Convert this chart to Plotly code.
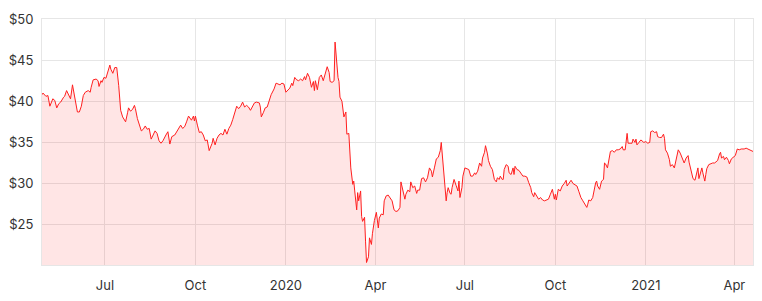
import plotly.graph_objects as go

dates = [
    "2019-04-28","2019-04-29","2019-05-02","2019-05-04","2019-05-06","2019-05-09","2019-05-11","2019-05-13","2019-05-15","2019-05-17",
    "2019-05-20","2019-05-21","2019-05-23","2019-05-25","2019-05-27","2019-05-29","2019-05-31",
    "2019-06-01","2019-06-03","2019-06-05","2019-06-07","2019-06-09","2019-06-11","2019-06-14","2019-06-16","2019-06-17","2019-06-19",
    "2019-06-22","2019-06-24","2019-06-25","2019-06-27","2019-06-28","2019-06-30",
    "2019-07-02","2019-07-04","2019-07-06","2019-07-07","2019-07-09","2019-07-11","2019-07-13","2019-07-15","2019-07-17","2019-07-19",
    "2019-07-21","2019-07-22","2019-07-24","2019-07-25","2019-07-27","2019-07-29","2019-07-31",
    "2019-08-01","2019-08-03","2019-08-05","2019-08-07","2019-08-09","2019-08-11","2019-08-13","2019-08-15","2019-08-17","2019-08-19",
    "2019-08-21","2019-08-23","2019-08-25","2019-08-27","2019-08-29",
    "2019-09-01","2019-09-03","2019-09-05","2019-09-07","2019-09-10","2019-09-12","2019-09-14","2019-09-16","2019-09-18","2019-09-20",
    "2019-09-22","2019-09-24","2019-09-27","2019-09-29","2019-09-30",
    "2019-10-01","2019-10-03","2019-10-05","2019-10-07","2019-10-09","2019-10-11","2019-10-13","2019-10-15","2019-10-18","2019-10-19",
    "2019-10-21","2019-10-23","2019-10-25","2019-10-27","2019-10-29","2019-10-31",
    "2019-11-02","2019-11-04","2019-11-06","2019-11-08","2019-11-10","2019-11-12","2019-11-14","2019-11-16","2019-11-18","2019-11-20",
    "2019-11-22","2019-11-24","2019-11-26","2019-11-28","2019-11-30",
    "2019-12-02","2019-12-05","2019-12-06","2019-12-07","2019-12-09","2019-12-11","2019-12-13","2019-12-15","2019-12-17","2019-12-20",
    "2019-12-22","2019-12-24","2019-12-26","2019-12-28","2019-12-30",
    "2020-01-01","2020-01-03","2020-01-05","2020-01-07","2020-01-08","2020-01-10","2020-01-12","2020-01-14","2020-01-16","2020-01-18",
    "2020-01-20","2020-01-21","2020-01-23","2020-01-25","2020-01-27","2020-01-29","2020-01-30","2020-01-31",
    "2020-02-02","2020-02-04","2020-02-06","2020-02-08","2020-02-10","2020-02-12","2020-02-14","2020-02-15","2020-02-17","2020-02-19",
    "2020-02-20","2020-02-21","2020-02-23","2020-02-24","2020-02-25","2020-02-27","2020-02-28","2020-02-29",
    "2020-03-02","2020-03-03","2020-03-05","2020-03-06","2020-03-07","2020-03-09","2020-03-10","2020-03-11","2020-03-13","2020-03-14",
    "2020-03-15","2020-03-17","2020-03-18","2020-03-19","2020-03-21","2020-03-22","2020-03-23","2020-03-25","2020-03-26","2020-03-28",
    "2020-03-29","2020-03-31",
    "2020-04-02","2020-04-04","2020-04-05","2020-04-07","2020-04-09","2020-04-10","2020-04-12","2020-04-14","2020-04-16","2020-04-18",
    "2020-04-20","2020-04-22","2020-04-24","2020-04-26","2020-04-27","2020-04-29",
    "2020-05-01","2020-05-02","2020-05-04","2020-05-06","2020-05-07","2020-05-09","2020-05-11","2020-05-13","2020-05-14","2020-05-16",
    "2020-05-18","2020-05-20","2020-05-22","2020-05-24","2020-05-26","2020-05-28","2020-05-29","2020-05-31",
    "2020-06-02","2020-06-04","2020-06-06","2020-06-07","2020-06-08","2020-06-10","2020-06-12","2020-06-13","2020-06-14","2020-06-16",
    "2020-06-17","2020-06-18","2020-06-20","2020-06-22","2020-06-24","2020-06-25","2020-06-26","2020-06-28","2020-06-29",
    "2020-07-01","2020-07-03","2020-07-05","2020-07-07","2020-07-09","2020-07-11","2020-07-12","2020-07-14","2020-07-16","2020-07-18",
    "2020-07-19","2020-07-21","2020-07-22","2020-07-24","2020-07-25","2020-07-27","2020-07-29","2020-07-31",
    "2020-08-02","2020-08-03","2020-08-05","2020-08-06","2020-08-08","2020-08-09","2020-08-10","2020-08-12","2020-08-14","2020-08-15",
    "2020-08-17","2020-08-19","2020-08-20","2020-08-21","2020-08-23","2020-08-25","2020-08-27","2020-08-29","2020-08-31",
    "2020-09-02","2020-09-04","2020-09-06","2020-09-07","2020-09-09","2020-09-10","2020-09-12","2020-09-14","2020-09-16","2020-09-18",
    "2020-09-20","2020-09-22","2020-09-24","2020-09-26","2020-09-28","2020-09-30",
    "2020-10-01","2020-10-02","2020-10-04","2020-10-06","2020-10-08","2020-10-10","2020-10-12","2020-10-13","2020-10-15","2020-10-17",
    "2020-10-19","2020-10-21","2020-10-23","2020-10-25","2020-10-27","2020-10-29","2020-10-31",
    "2020-11-02","2020-11-03","2020-11-04","2020-11-06","2020-11-08","2020-11-11","2020-11-12","2020-11-13","2020-11-15","2020-11-17",
    "2020-11-19","2020-11-20","2020-11-21","2020-11-23","2020-11-24","2020-11-26","2020-11-28","2020-11-30",
    "2020-12-02","2020-12-04","2020-12-06","2020-12-08","2020-12-09","2020-12-11","2020-12-13","2020-12-14","2020-12-16","2020-12-18",
    "2020-12-19","2020-12-21","2020-12-22","2020-12-23","2020-12-25","2020-12-27","2020-12-30",
    "2021-01-01","2021-01-03","2021-01-05","2021-01-06","2021-01-08","2021-01-10","2021-01-12","2021-01-13","2021-01-15","2021-01-17",
    "2021-01-19","2021-01-20","2021-01-21","2021-01-23","2021-01-25","2021-01-26","2021-01-28","2021-01-30",
    "2021-02-01","2021-02-03","2021-02-05","2021-02-07","2021-02-09","2021-02-11","2021-02-13","2021-02-14","2021-02-16","2021-02-18",
    "2021-02-20","2021-02-22","2021-02-23","2021-02-24","2021-02-26","2021-02-27","2021-02-28",
    "2021-03-02","2021-03-03","2021-03-04","2021-03-06","2021-03-08","2021-03-10","2021-03-12","2021-03-15","2021-03-17","2021-03-18",
    "2021-03-19","2021-03-21","2021-03-22","2021-03-24","2021-03-26","2021-03-27","2021-03-29","2021-03-31",
    "2021-04-02","2021-04-04","2021-04-06","2021-04-08","2021-04-11","2021-04-13","2021-04-15","2021-04-18","2021-04-20",
]

prices = [
    40.8,41.0,40.6,40.7,39.4,40.3,40.1,39.2,39.7,39.9,
    40.5,40.6,41.3,40.7,40.3,42.0,40.5,
    40.1,38.7,38.7,39.4,40.7,41.1,41.3,41.1,41.7,42.6,
    42.7,42.5,41.8,42.5,42.3,42.9,
    42.8,43.7,44.4,43.9,43.4,44.1,44.1,41.9,38.9,38.1,
    37.7,37.5,38.6,39.2,38.8,39.0,39.5,
    39.1,37.9,37.1,36.4,36.6,37.0,36.6,36.7,35.4,35.9,
    36.4,36.1,35.2,34.9,35.2,
    35.9,36.3,34.8,35.7,35.9,36.3,36.7,37.1,36.7,36.9,
    37.5,38.2,37.7,38.2,37.6,
    38.2,37.1,36.2,36.3,35.9,35.2,35.3,34.0,34.9,35.5,
    34.7,35.5,35.9,36.1,35.9,36.6,
    36.0,36.7,37.1,37.8,38.5,39.4,39.1,39.4,39.9,39.3,
    39.5,39.3,38.9,39.4,39.8,
    39.9,39.8,39.3,38.1,38.6,39.2,39.3,40.0,40.8,41.5,
    42.2,42.1,42.0,42.2,42.1,
    41.1,41.3,41.6,42.2,41.9,42.9,42.6,42.5,42.7,42.5,
    43.0,42.6,43.4,42.9,41.7,42.4,41.3,42.5,
    41.4,42.9,43.2,42.5,43.3,44.2,43.5,42.4,42.3,42.5,
    47.2,45.3,42.9,42.4,40.5,40.0,38.5,38.1,
    38.7,36.0,36.1,33.9,31.9,29.9,30.3,29.1,26.8,28.9,
    27.9,29.1,26.0,25.4,25.9,23.0,20.4,21.1,23.4,22.6,
    23.9,25.5,
    26.5,24.6,25.8,26.3,26.2,27.9,28.5,28.6,28.3,27.9,
    26.8,26.6,26.7,27.1,30.2,28.9,
    28.1,28.7,29.2,29.0,30.2,29.5,29.7,28.8,29.2,29.2,
    30.6,30.7,30.2,30.7,31.9,31.5,30.8,31.9,
    33.0,33.2,34.0,35.0,33.7,31.3,27.9,28.9,29.5,28.8,
    28.7,29.5,30.5,29.8,29.1,30.3,28.3,29.5,30.9,
    31.9,31.8,31.7,30.9,30.9,31.3,31.1,31.5,32.5,32.1,
    33.1,33.8,34.6,33.6,32.8,32.1,31.7,30.5,
    30.2,30.7,30.5,30.9,30.5,30.5,31.7,32.3,32.1,31.3,
    31.1,31.9,31.1,32.1,31.7,31.6,31.3,30.9,30.9,
    30.8,30.1,29.5,28.9,28.4,28.9,28.4,28.1,28.3,28.0,
    27.9,28.0,28.1,28.7,29.3,28.1,
    28.7,28.0,29.3,29.1,29.7,30.0,30.4,29.7,30.1,30.4,
    30.0,29.8,29.7,29.0,28.3,27.9,27.5,
    27.1,27.5,28.0,27.9,28.3,30.1,30.3,29.7,29.3,30.3,
    30.5,32.5,32.4,31.9,32.6,33.9,34.0,33.8,
    34.1,34.1,34.2,34.5,34.1,34.1,36.1,34.9,34.9,34.9,
    35.4,35.0,35.4,34.7,35.0,35.3,35.0,
    35.1,34.9,35.0,36.3,36.4,36.2,36.3,35.7,35.6,35.6,
    36.0,35.5,34.1,33.7,32.9,32.1,32.3,31.9,
    33.1,34.1,33.7,33.0,32.5,33.1,33.4,32.6,31.5,30.6,
    30.4,31.3,31.9,30.6,31.3,31.9,31.3,
    30.3,31.1,31.8,32.3,32.4,32.5,32.5,32.8,33.6,33.8,
    33.1,33.3,32.9,33.2,32.8,32.4,33.0,33.2,
    33.4,34.2,34.1,34.2,34.2,34.3,34.2,34.0,33.9,
]

x_tick_dates = ["2019-07-01","2019-10-01","2020-01-01","2020-04-01",
                "2020-07-01","2020-10-01","2021-01-01","2021-04-01"]
x_tick_labels = ["Jul","Oct","2020","Apr","Jul","Oct","2021","Apr"]
y_tick_values = [25, 30, 35, 40, 45, 50]
y_tick_labels = ["$25", "$30", "$35", "$40", "$45", "$50"]

fig = go.Figure()
fig.add_trace(go.Scatter(
    x=dates, y=prices, mode="lines",
    line=dict(color="#ff1f1f", width=1),
    fill="tozeroy", fillcolor="rgba(255,0,0,0.1)",
    hoverinfo="skip", showlegend=False,
))

grid = "#e6e6e6"
fig.update_layout(
    width=762, height=301,
    margin=dict(l=41, r=8, t=19, b=33),
    paper_bgcolor="white", plot_bgcolor="white",
    font=dict(family="Inter, 'Open Sans', sans-serif", size=13, color="#333333"),
    showlegend=False,
)
fig.update_xaxes(
    type="date",
    range=[dates[0], dates[-1]],
    tickmode="array", tickvals=x_tick_dates, ticktext=x_tick_labels,
    showgrid=True, gridcolor=grid, gridwidth=1,
    showline=True, linecolor=grid, linewidth=1, mirror=True,
    ticks="", ticklabelstandoff=8,
    zeroline=False,
)
fig.update_yaxes(
    range=[20.1, 50],
    tickmode="array", tickvals=y_tick_values, ticktext=y_tick_labels,
    showgrid=True, gridcolor=grid, gridwidth=1,
    showline=True, linecolor=grid, linewidth=1, mirror=True,
    ticks="", ticklabelstandoff=5,
    zeroline=False,
)

fig.write_html("out.html")
